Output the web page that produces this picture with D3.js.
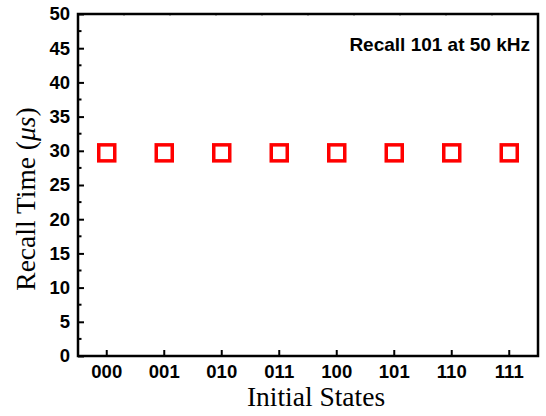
<!DOCTYPE html>
<html>
<head>
<meta charset="utf-8">
<script src="https://cdn.jsdelivr.net/npm/d3@7"></script>
<style>
  html, body { margin: 0; padding: 0; background: #fff; }
  svg { display: block; }
</style>
</head>
<body>
<div id="chart"></div>
<script>
// Recall time for each initial state
const states = ["000", "001", "010", "011", "100", "101", "110", "111"];
const recallTime = [29.7, 29.7, 29.7, 29.7, 29.7, 29.7, 29.7, 29.7];
const yTicks = [0, 5, 10, 15, 20, 25, 30, 35, 40, 45, 50];
const yMinorTicks = [2.5, 7.5, 12.5, 17.5, 22.5, 27.5, 32.5, 37.5, 42.5, 47.5];
const annotation = "Recall 101 at 50 kHz";

const W = 546, H = 416;
const m = { left: 78, right: 8, top: 14, bottom: 60 };
const x0 = m.left, x1 = W - m.right, y0 = H - m.bottom, y1 = m.top;

const svg = d3.select("#chart").append("svg").attr("width", W).attr("height", H);

const x = d3.scaleBand().domain(states).range([x0, x1]).padding(0);
const y = d3.scaleLinear().domain([0, 50]).range([y0, y1]);
const xc = d => x(d) + x.bandwidth() / 2;

const tickFont = "'Liberation Sans', Arial, sans-serif";
const serif = "'Liberation Serif', 'Times New Roman', serif";

// faint ticks on the top edge
const xTop = d3.scaleLinear().domain([0, 10]).range([x0, x1]);
svg.append("g").selectAll("line").data(d3.range(1, 10)).join("line")
  .attr("x1", d => xTop(d)).attr("x2", d => xTop(d))
  .attr("y1", y1).attr("y2", y1 + 2)
  .attr("stroke", "#888").attr("stroke-width", 1);

// left axis: inward major and minor ticks
const yAxis = svg.append("g").attr("transform", `translate(${x0},0)`)
  .call(d3.axisLeft(y).tickValues(yTicks).tickSize(-6).tickPadding(8));
yAxis.select(".domain").remove();
yAxis.selectAll(".tick line").attr("stroke", "#000").attr("stroke-width", 2);
yAxis.selectAll(".tick text")
  .attr("font-family", tickFont).attr("font-weight", "bold").attr("font-size", 18.5)
  .attr("fill", "#000");
svg.append("g").selectAll("line").data(yMinorTicks).join("line")
  .attr("x1", x0).attr("x2", x0 + 3.5)
  .attr("y1", d => y(d)).attr("y2", d => y(d))
  .attr("stroke", "#000").attr("stroke-width", 2);

// bottom axis: inward ticks at each category
const xAxis = svg.append("g").attr("transform", `translate(0,${y0})`)
  .call(d3.axisBottom(x).tickSize(-6).tickPadding(9));
xAxis.select(".domain").remove();
xAxis.selectAll(".tick line").attr("stroke", "#000").attr("stroke-width", 2);
xAxis.selectAll(".tick text")
  .attr("font-family", tickFont).attr("font-weight", "bold").attr("font-size", 18.5)
  .attr("fill", "#000");

// plot frame
svg.append("rect")
  .attr("x", x0).attr("y", y1).attr("width", x1 - x0).attr("height", y0 - y1)
  .attr("fill", "none").attr("stroke", "#000").attr("stroke-width", 2.5);

// hollow square markers
const s = 16;
svg.append("g").selectAll("rect").data(states).join("rect")
  .attr("x", (d) => xc(d) - s / 2)
  .attr("y", (d, i) => y(recallTime[i]) - s / 2)
  .attr("width", s).attr("height", s)
  .attr("fill", "none").attr("stroke", "#ff0000").attr("stroke-width", 3.5);

// annotation
svg.append("text")
  .attr("x", 530).attr("y", 51).attr("text-anchor", "end")
  .attr("font-family", tickFont).attr("font-weight", "bold").attr("font-size", 19)
  .text(annotation);

// axis titles
svg.append("text")
  .attr("x", 316).attr("y", 406).attr("text-anchor", "middle")
  .attr("font-family", serif).attr("font-size", 27.5)
  .text("Initial States");

const yl = svg.append("text")
  .attr("transform", "translate(35,199) rotate(-90)")
  .attr("text-anchor", "middle")
  .attr("font-family", serif).attr("font-size", 27.5);
yl.append("tspan").text("Recall Time (");
yl.append("tspan").attr("font-style", "italic").text("μ");
yl.append("tspan").attr("font-style", "italic").text("s");
yl.append("tspan").text(")");
</script>
</body>
</html>
